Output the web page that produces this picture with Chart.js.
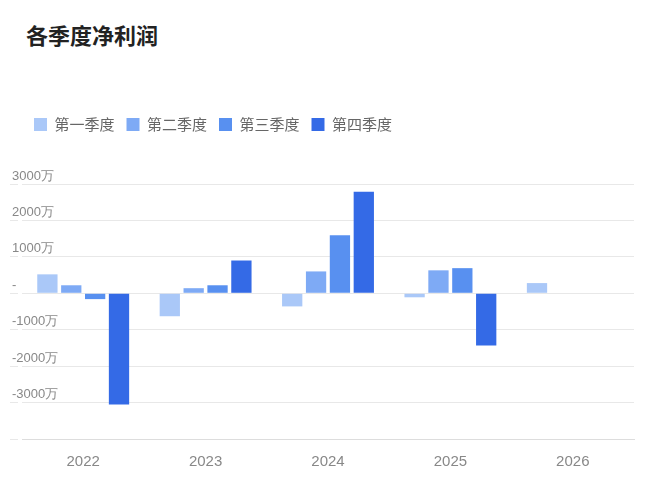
<!DOCTYPE html>
<html><head><meta charset="utf-8">
<script src="https://cdn.jsdelivr.net/npm/chart.js@4/dist/chart.umd.min.js"></script>
<style>body{margin:0;background:#fff;font-family:"Noto Sans CJK SC","Noto Sans",sans-serif}
#t{position:absolute;left:26px;top:18px;font-size:22px;font-weight:bold;color:#222}
#w{position:absolute;left:0;top:105px;width:650px;height:372px}</style></head>
<body><div id="t">各季度净利润</div><div id="w"><canvas id="c"></canvas></div>
<script>
const years=["2022","2023","2024","2025","2026"];
const q1=[520,-630,-360,-110,280];
const q2=[220,140,600,630,null];
const q3=[-160,220,1590,690,null];
const q4=[-3050,900,2790,-1430,null];
const names=["第一季度","第二季度","第三季度","第四季度"];
const colors=["#aac8f8","#7eaaf5","#5890f0","#346ae6"];
const ticks=[3000,2000,1000,0,-1000,-2000,-3000];
new Chart(document.getElementById('c'),{type:'bar',
data:{labels:years,datasets:[q1,q2,q3,q4].map((d,i)=>({label:names[i],data:d,backgroundColor:colors[i],categoryPercentage:0.78,barPercentage:0.85}))},
plugins:[{id:'lg',beforeInit(ch){const f=ch.legend.fit;ch.legend.fit=function(){f.call(this);this.height+=42;};}}],
options:{responsive:true,maintainAspectRatio:false,animation:false,
layout:{padding:{left:22,right:16,top:0,bottom:0}},
plugins:{legend:{position:'top',align:'start',labels:{boxWidth:13,boxHeight:13,color:'#666',font:{size:15,family:'Noto Sans CJK SC'},padding:12}},tooltip:{enabled:false}},
scales:{x:{grid:{display:false},border:{color:'#ddd'},ticks:{color:'#888',font:{size:15},padding:6}},
y:{min:-4000,max:3000,afterBuildTicks:a=>{a.ticks=[-4000,...ticks.slice().reverse()].map(v=>({value:v}))},
border:{display:false},grid:{color:'#e8e8e8'},
ticks:{mirror:true,padding:-6,labelOffset:-8,color:'#888',font:{size:13},callback:v=>(v===-4000)?'':(v===0?'-':v+'万')}}}}});
</script></body></html>
